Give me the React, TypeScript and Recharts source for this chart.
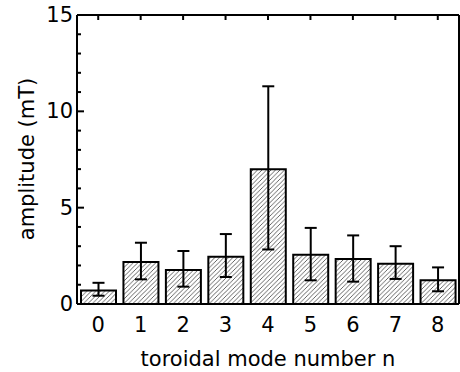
import React from 'react';
import { BarChart, Bar, XAxis, YAxis, ErrorBar, Label } from 'recharts';

const categories = ['0', '1', '2', '3', '4', '5', '6', '7', '8'];
const amplitude = [0.7, 2.18, 1.76, 2.45, 7.0, 2.55, 2.33, 2.09, 1.23];
const errLowEnd = [0.43, 1.28, 0.9, 1.4, 2.83, 1.23, 1.16, 1.3, 0.66];
const errHighEnd = [1.1, 3.18, 2.75, 3.63, 11.3, 3.95, 3.56, 3.0, 1.9];
const yTicks = [0, 1, 2, 3, 4, 5, 6, 7, 8, 9, 10, 11, 12, 13, 14, 15];
const yMajor = [0, 5, 10, 15];

const data = categories.map((c, i) => ({
  n: c,
  amp: amplitude[i],
  err: [amplitude[i] - errLowEnd[i], errHighEnd[i] - amplitude[i]],
}));

const FONT = '"DejaVu Sans", sans-serif';

const LeftTick = (props: any) => {
  const { x, y, payload } = props;
  const major = yMajor.includes(payload.value);
  const ax = x + 4;
  return (
    <g>
      {payload.value !== 0 && payload.value !== 15 && (
        <line x1={ax} x2={ax + (major ? 7 : 4)} y1={y} y2={y} stroke="#000" strokeWidth={2} />
      )}
      {major && (
        <text x={x} y={y} textAnchor="end" dominantBaseline="central" fontSize={21} fontFamily={FONT} fill="#000">
          {payload.value}
        </text>
      )}
    </g>
  );
};

const RightTick = (props: any) => {
  const { x, y, payload } = props;
  const major = yMajor.includes(payload.value);
  if (payload.value === 0 || payload.value === 15) return <g />;
  return <line x1={x} x2={x - (major ? 7 : 4)} y1={y} y2={y} stroke="#000" strokeWidth={2} />;
};

const TopTick = (props: any) => {
  const { x, y } = props;
  return <line x1={x} x2={x} y1={y} y2={y + 5} stroke="#000" strokeWidth={2} />;
};

const YTitle = () => (
  <text
    x={34}
    y={159}
    transform="rotate(-90, 34, 159)"
    textAnchor="middle"
    fontSize={21}
    fontFamily={FONT}
    fill="#000"
  >
    amplitude (mT)
  </text>
);

export default function App() {
  return (
    <div style={{ position: 'absolute', left: 0, top: 0, width: 460, height: 372, background: '#fff' }}>
      <svg width={0} height={0} style={{ position: 'absolute' }}>
        <defs>
          <pattern id="hatch" patternUnits="userSpaceOnUse" width={4.5} height={4.5}>
            <rect width={4.5} height={4.5} fill="#fff" />
            <path d="M-1,1 l2,-2 M0,4.5 l4.5,-4.5 M3.5,5.5 l2,-2" stroke="#555" strokeWidth={0.9} />
          </pattern>
        </defs>
      </svg>
      <BarChart
        width={460}
        height={372}
        data={data}
        margin={{ top: 0, right: 0, bottom: 0, left: 0 }}
        barCategoryGap={0}
      >
        <XAxis
          dataKey="n"
          xAxisId="bottom"
          height={68}
          axisLine={{ stroke: '#000', strokeWidth: 2 }}
          tickLine={false}
          tickSize={0}
          tickMargin={13}
          tick={{ fontSize: 21, fontFamily: FONT, fill: '#000' }}
          interval={0}
        >
          <Label
            value="toroidal mode number n"
            position="insideBottom"
            offset={6}
            style={{ fontSize: 21, fontFamily: FONT, fill: '#000' }}
          />
        </XAxis>
        <XAxis
          dataKey="n"
          xAxisId="top"
          orientation="top"
          height={15}
          axisLine={{ stroke: '#000', strokeWidth: 2 }}
          tickLine={false}
          tickSize={0}
          tickMargin={0}
          tick={<TopTick />}
          interval={0}
        />
        <YAxis
          yAxisId="left"
          width={77}
          domain={[0, 15]}
          ticks={yTicks}
          interval={0}
          axisLine={{ stroke: '#000', strokeWidth: 2 }}
          tickLine={false}
          tickSize={0}
          tickMargin={4}
          tick={<LeftTick />}
        >
          <Label content={<YTitle />} />
        </YAxis>
        <YAxis
          yAxisId="right"
          orientation="right"
          width={1}
          domain={[0, 15]}
          ticks={yTicks}
          interval={0}
          axisLine={{ stroke: '#000', strokeWidth: 2 }}
          tickLine={false}
          tickSize={0}
          tickMargin={0}
          tick={<RightTick />}
        />
        <Bar
          dataKey="amp"
          xAxisId="bottom"
          yAxisId="left"
          barSize={35}
          fill="url(#hatch)"
          stroke="#000"
          strokeWidth={2}
          isAnimationActive={false}
        >
          <ErrorBar dataKey="err" width={6} strokeWidth={2} stroke="#000" direction="y" isAnimationActive={false} />
        </Bar>
      </BarChart>
    </div>
  );
}
